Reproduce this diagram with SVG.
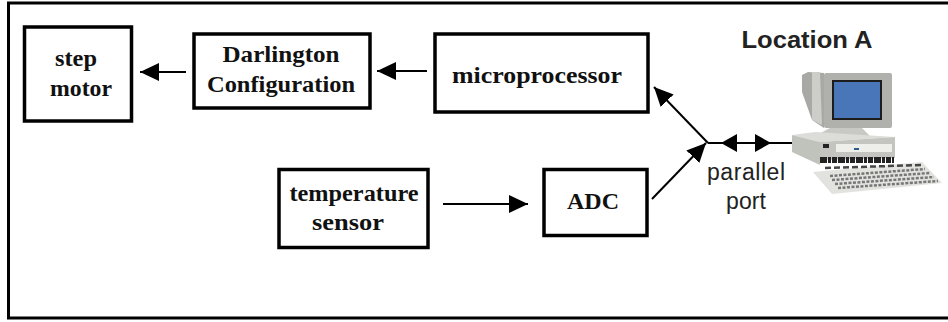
<svg xmlns="http://www.w3.org/2000/svg" width="948" height="322" viewBox="0 0 948 322">
<defs>
<marker id="ah" markerUnits="userSpaceOnUse" markerWidth="20" markerHeight="20" refX="19" refY="10" orient="auto"><path d="M0 1 L19 10 L0 19 Z" fill="#000"/></marker>
<filter id="soft" x="-5%" y="-5%" width="110%" height="110%"><feGaussianBlur stdDeviation="0.6"/></filter>
</defs>
<style>
.b{fill:#fff;stroke:#000;stroke-width:3.5}
.t{font-family:"Liberation Serif",serif;font-weight:bold;font-size:24px;fill:#111;text-anchor:middle}
.s{font-family:"Liberation Sans",Arial,sans-serif;fill:#222;text-anchor:middle}
.c{fill:none;stroke:#000;stroke-width:2}
</style>
<rect width="948" height="322" fill="#fff"/>
<path id="frame" d="M948 3 H8.500 V318 H948" fill="none" stroke="#000" stroke-width="3"/>
<g id="connectors">
<line class="c" x1="186" y1="72" x2="140" y2="72" marker-end="url(#ah)"/>
<line class="c" x1="427" y1="71" x2="377" y2="71" marker-end="url(#ah)"/>
<line class="c" x1="443" y1="204" x2="528" y2="204" marker-end="url(#ah)"/>
<line class="c" x1="652" y1="199" x2="706" y2="143" stroke-width="1.500" marker-end="url(#ah)"/>
<line class="c" x1="708" y1="143" x2="654" y2="87" stroke-width="1.500" marker-end="url(#ah)"/>
<line class="c" x1="708" y1="143" x2="792" y2="143"/>
<path d="M737 134 L721 143 L737 152 Z M755 134 L771 143 L755 152 Z" fill="#000"/>
</g>
<g id="step-motor"><rect class="b" x="24.500" y="27" width="107" height="94"/><text class="t" x="76" y="66" textLength="42" lengthAdjust="spacingAndGlyphs">step</text><text class="t" x="81" y="96" textLength="62" lengthAdjust="spacingAndGlyphs">motor</text></g>
<g id="darlington"><rect class="b" x="194" y="34" width="176" height="74"/><text class="t" x="281" y="62" textLength="117" lengthAdjust="spacingAndGlyphs">Darlington</text><text class="t" x="281" y="92" textLength="148" lengthAdjust="spacingAndGlyphs">Configuration</text></g>
<g id="microprocessor"><rect class="b" x="435" y="34" width="213" height="78"/><text class="t" x="537" y="83" textLength="170" lengthAdjust="spacingAndGlyphs">microprocessor</text></g>
<g id="temperature-sensor"><rect class="b" x="279" y="169.500" width="149" height="78"/><text class="t" x="354" y="201" textLength="129" lengthAdjust="spacingAndGlyphs">temperature</text><text class="t" x="348" y="230" textLength="72" lengthAdjust="spacingAndGlyphs">sensor</text></g>
<g id="adc"><rect class="b" x="544" y="169.500" width="103" height="66"/><text class="t" x="593" y="209" textLength="52" lengthAdjust="spacingAndGlyphs">ADC</text></g>
<g id="location-a">
<text class="s" x="807" y="48" font-size="23" font-weight="bold" textLength="131" lengthAdjust="spacingAndGlyphs">Location A</text>
<g filter="url(#soft)">
<path d="M802 75 L808 72 L824 73 L824 128 L812 120 L802 92 Z" fill="#a8a8a4"/>
<path d="M812 72 L820 72 L822 125 L812 120 Z" fill="#cdcdc9"/>
<rect x="824" y="73" width="68" height="55" rx="2" fill="#b0b0ac"/>
<rect x="832" y="80" width="50" height="40" fill="#1a1a1a"/>
<rect x="834" y="82" width="46" height="36" fill="#4a76b8"/>
<path d="M815 136 L830 128 L862 128 L870 136 Z" fill="#c8c8c4"/>
<path d="M792 135 L815 132 L895 137 L820 142 Z" fill="#dcdcd8"/>
<path d="M820 142 L895 137 L895 158 L820 160 Z" fill="#c4c4c0"/>
<path d="M792 135 L820 142 L820 165 L792 152 Z" fill="#c0c2bc"/>
<rect x="836" y="144" width="56" height="8" fill="#eeeeea"/>
<rect x="823" y="144" width="6" height="4" fill="#222"/>
<rect x="854" y="148" width="5" height="2" fill="#2a5a90"/>
<path d="M820 160 H894" stroke="#222" stroke-width="6" stroke-dasharray="7 1 3 1 5 1" fill="none"/>
<path d="M813 172 L922 162 L942 183 L832 194 Z" fill="#e2e2de"/>
<path d="M825 168 L922 165" stroke="#444" stroke-width="2.500" stroke-dasharray="6 3" fill="none"/>
<path d="M830 176 L925 169 M832 180 L930 173 M835 184 L934 177 M838 188 L938 181" stroke="#777" stroke-width="2.500" stroke-dasharray="3 1.500" fill="none"/>
</g>
</g>
<text id="parallel-port-1" class="s" x="746" y="180" font-size="23" textLength="78" lengthAdjust="spacing">parallel</text>
<text id="parallel-port-2" class="s" x="746" y="209" font-size="23" textLength="40" lengthAdjust="spacing">port</text>
</svg>
